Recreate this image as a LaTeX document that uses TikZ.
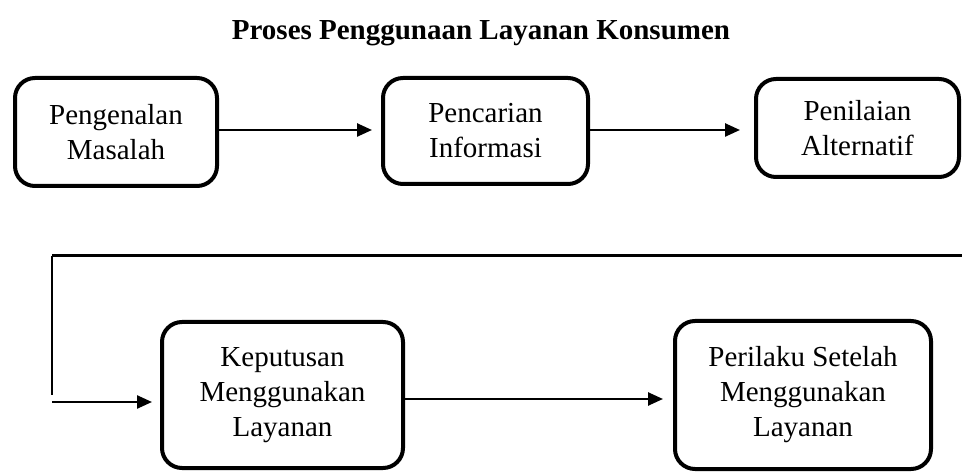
\documentclass[tikz,border=0pt]{standalone}
\usepackage{fontspec}
\setmainfont{Liberation Serif}
\usetikzlibrary{arrows.meta}

\tikzset{
  langkah/.style={draw,line width=4pt,rounded corners=20pt,align=center,
    font=\fontsize{29}{35}\selectfont,inner sep=0pt},
  panah/.style={line width=2.5pt,-{Triangle[length=15pt,width=13pt]}}
}

\begin{document}
\begin{tikzpicture}[x=1pt,y=-1pt]
    \useasboundingbox (0,0) rectangle (962,473);
    \node (judul) at (481,33) {\fontsize{29}{35}\selectfont\bfseries Proses Penggunaan Layanan Konsumen};
    \node[langkah,minimum width=202pt,minimum height=108pt] (b1) at (116,132) {Pengenalan\\Masalah};
    \node[langkah,minimum width=205pt,minimum height=106pt] (b2) at (485.5,131) {Pencarian\\Informasi};
    \node[langkah,minimum width=203pt,minimum height=98pt] (b3) at (857.5,128) {Penilaian\\Alternatif};
    \node[langkah,minimum width=241pt,minimum height=146pt] (b4) at (282.5,395) {Keputusan\\Menggunakan\\Layanan};
    \node[langkah,minimum width=256pt,minimum height=148pt] (b5) at (803,395) {Perilaku Setelah\\Menggunakan\\Layanan};
    \draw[panah,shorten >=9pt] (b1.east |- 0,130) -- (b2.west |- 0,130);
    \draw[panah,shorten >=14pt] (b2.east |- 0,130) -- (b3.west |- 0,130);
    \coordinate (kanan) at (962,256);
    \coordinate (kiri) at (52,256);
    \coordinate (bawah) at (52,395);
    \coordinate (masuk) at (52,402);
    \draw[line width=3pt] (kanan) -- (kiri.east);
    \draw[line width=2pt] (kiri) -- (bawah);
    \draw[panah,shorten >=8pt] (masuk) -- (masuk -| b4.west);
    \draw[panah,shorten >=10pt] (b4.east |- 0,399) -- (b5.west |- 0,399);
  \end{tikzpicture}
\end{document}
